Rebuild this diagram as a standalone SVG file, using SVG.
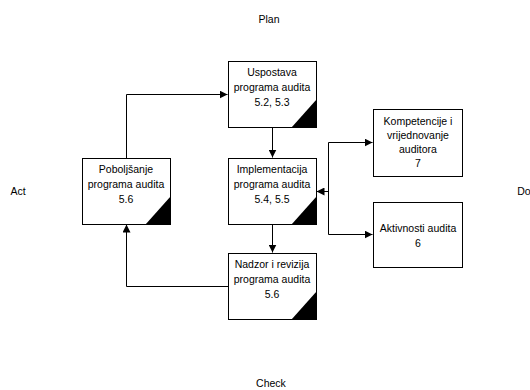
<svg xmlns="http://www.w3.org/2000/svg" width="530" height="390" viewBox="0 0 530 390">
<defs>
<style>
.box{fill:#fff;stroke:#000;stroke-width:1}
.tri{fill:#000;stroke:none}
.t{font-family:"Liberation Sans",Arial,sans-serif;font-size:10.5px;fill:#000;text-anchor:middle}
.lbl{font-family:"Liberation Sans",Arial,sans-serif;font-size:10.5px;fill:#000;text-anchor:middle}
.c{fill:none;stroke:#000;stroke-width:1}
</style>
<marker id="ah" viewBox="0 0 10 10" refX="10" refY="5" markerWidth="8" markerHeight="8" markerUnits="userSpaceOnUse" orient="auto">
<path d="M0,0 L10,5 L0,10 z" fill="#000"/>
</marker>
</defs>
<rect width="530" height="390" fill="#fff"/>
<g id="labels">
<text class="lbl" x="269" y="23">Plan</text>
<text class="lbl" x="18" y="195">Act</text>
<text class="lbl" x="524" y="195">Do</text>
<text class="lbl" x="271" y="387">Check</text>
</g>
<g id="connectors">
<path class="c" d="M272.5,127 V157.5" marker-end="url(#ah)"/>
<path class="c" d="M272.5,224 V252.5" marker-end="url(#ah)"/>
<path class="c" d="M228,286.5 H126.5 V224.5" marker-end="url(#ah)"/>
<path class="c" d="M126.5,158 V94.5 H227.5" marker-end="url(#ah)"/>
<path class="c" d="M328.5,142.5 V234.5"/>
<path class="c" d="M328.5,191.5 H316.5" marker-end="url(#ah)"/>
<path class="c" d="M328.5,142.5 H372.5" marker-end="url(#ah)"/>
<path class="c" d="M328.5,234.5 H372.5" marker-end="url(#ah)"/>
</g>
<g id="uspostava">
<rect class="box" x="228.5" y="61.5" width="88" height="66"/>
<path class="tri" d="M316.5,99.5 V127.5 H291.5 z"/>
<text class="t" x="272" y="76">Uspostava</text>
<text class="t" x="272" y="91">programa audita</text>
<text class="t" x="272" y="106">5.2, 5.3</text>
</g>
<g id="implementacija">
<rect class="box" x="228.5" y="158.5" width="88" height="66"/>
<path class="tri" d="M316.5,196.5 V224.5 H291.5 z"/>
<text class="t" x="272" y="173">Implementacija</text>
<text class="t" x="272" y="188">programa audita</text>
<text class="t" x="272" y="203">5.4, 5.5</text>
</g>
<g id="nadzor">
<rect class="box" x="228.5" y="253.5" width="88" height="66"/>
<path class="tri" d="M316.5,291.5 V319.5 H291.5 z"/>
<text class="t" x="272" y="268">Nadzor i revizija</text>
<text class="t" x="272" y="283">programa audita</text>
<text class="t" x="272" y="298">5.6</text>
</g>
<g id="poboljsanje">
<rect class="box" x="82.5" y="158.5" width="88" height="66"/>
<path class="tri" d="M170.5,196.5 V224.5 H145.5 z"/>
<text class="t" x="126" y="173">Poboljšanje</text>
<text class="t" x="126" y="188">programa audita</text>
<text class="t" x="126" y="203">5.6</text>
</g>
<g id="kompetencije">
<rect class="box" x="373.5" y="109.5" width="89" height="67"/>
<text class="t" x="418" y="125">Kompetencije i</text>
<text class="t" x="418" y="139">vrijednovanje</text>
<text class="t" x="418" y="153">auditora</text>
<text class="t" x="418" y="167">7</text>
</g>
<g id="aktivnosti">
<rect class="box" x="373.5" y="202.5" width="89" height="65"/>
<text class="t" x="418" y="232">Aktivnosti audita</text>
<text class="t" x="418" y="247">6</text>
</g>
</svg>
